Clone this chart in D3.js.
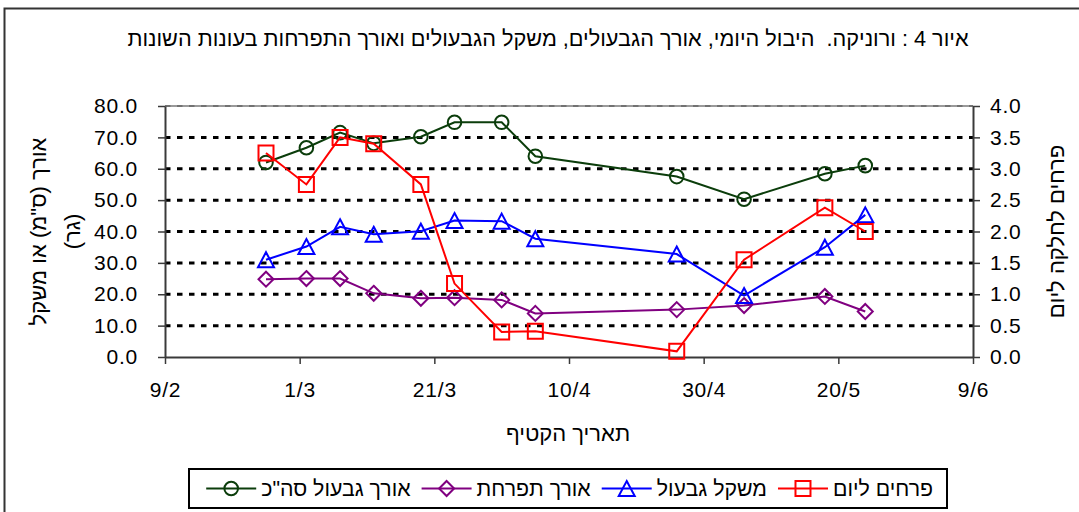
<!DOCTYPE html>
<html>
<head>
<meta charset="utf-8">
<script src="https://cdn.jsdelivr.net/npm/d3@7"></script>
<style>
  body { margin: 0; background: #fff; }
  svg { display: block; font-family: "Liberation Sans", Arial, sans-serif; }
</style>
</head>
<body>
<div id="chart"></div>
<script>
// Harvest dates (day/month) and the four measured series
const YEAR = "2007";
const harvestDates = ["24/2", "2/3", "7/3", "12/3", "19/3", "24/3", "31/3", "5/4", "26/4", "6/5", "18/5", "24/5"];
const stemLength = [62.0, 66.7, 71.5, 68.1, 70.2, 74.8, 74.8, 64.0, 57.5, 50.3, 58.4, 61.0];
const inflLength = [24.8, 25.0, 25.0, 20.3, 18.7, 18.9, 18.2, 13.9, 15.1, 16.4, 19.3, 14.5];
const stemWeight = [31.0, 35.2, 41.5, 39.1, 40.1, 43.5, 43.3, 37.7, 32.8, 19.6, 35.0, 45.3];
const flowersPerDay = [3.25, 2.75, 3.5, 3.4, 2.75, 1.17, 0.40, 0.41, 0.09, 1.55, 2.38, 2.0];

const xTickLabels = ["9/2", "1/3", "21/3", "10/4", "30/4", "20/5", "9/6"];
const leftTicks = [0, 10, 20, 30, 40, 50, 60, 70, 80];
const rightTicks = [0, 0.5, 1, 1.5, 2, 2.5, 3, 3.5, 4];

const seriesNames = ["אורך גבעול סה\"כ", "אורך תפרחת", "משקל גבעול", "פרחים ליום"];

const titleText = "איור 4 : ורוניקה.  היבול היומי, אורך הגבעולים, משקל הגבעולים ואורך התפרחות בעונות השונות";
const xTitle = "תאריך הקטיף";
const yLeftTitle = ["אורך (ס\"מ) או משקל", "(גר)"];
const yRightTitle = "פרחים לחלקה ליום";

const parseDate = d3.timeParse("%d/%m/%Y");
const toDate = (s) => parseDate(`${s}/${YEAR}`);

const width = 1079;
const height = 512;
const plot = { left: 165, right: 973, top: 106, bottom: 357 };
const hebFont = "22px";

const svg = d3
  .select("#chart")
  .append("svg")
  .attr("width", width)
  .attr("height", height);

svg.append("rect").attr("width", width).attr("height", height).attr("fill", "#fff");

// outer chart border (runs off the right and bottom edges)
svg
  .append("rect")
  .attr("x", 4.5)
  .attr("y", 8.5)
  .attr("width", width + 20)
  .attr("height", height + 20)
  .attr("fill", "none")
  .attr("stroke", "#333")
  .attr("stroke-width", 2);

// Scales
const xTicks = xTickLabels.map(toDate);
const x = d3
  .scaleTime()
  .domain([xTicks[0], xTicks[xTicks.length - 1]])
  .range([plot.left, plot.right]);
const yL = d3.scaleLinear().domain([0, 80]).range([plot.bottom, plot.top]);
const yR = d3.scaleLinear().domain([0, 4]).range([plot.bottom, plot.top]);

// Gridlines
svg
  .append("line")
  .attr("x1", plot.left)
  .attr("x2", plot.right)
  .attr("y1", yL(80))
  .attr("y2", yL(80))
  .attr("stroke", "#9a9a9a")
  .attr("stroke-width", 2);

svg
  .append("g")
  .selectAll("line")
  .data(leftTicks.filter((d) => d > 0))
  .join("line")
  .attr("x1", plot.left)
  .attr("x2", plot.right)
  .attr("y1", (d) => yL(d))
  .attr("y2", (d) => yL(d))
  .attr("stroke", (d) => (d === 80 ? "#666" : "#000"))
  .attr("stroke-width", (d) => (d === 80 ? 1.5 : 3))
  .attr("stroke-dasharray", "5.5,6.5");

// Axes
const tickFont = "21px";
const axisColor = "#3a3a3a";

function styleAxis(g) {
  g.select(".domain").attr("stroke", axisColor).attr("stroke-width", 2);
  g.selectAll(".tick line").attr("stroke", axisColor).attr("stroke-width", 1.5);
  g.selectAll(".tick text")
    .attr("fill", "#000")
    .style("font-size", tickFont)
    .style("letter-spacing", "0.8px")
    .style("font-family", '"Liberation Sans", Arial, sans-serif');
}

svg
  .append("g")
  .attr("transform", `translate(0,${plot.bottom})`)
  .call(
    d3
      .axisBottom(x)
      .tickValues(xTicks)
      .tickSize(7)
      .tickSizeOuter(0)
      .tickPadding(18)
      .tickFormat(d3.timeFormat("%-d/%-m"))
  )
  .call(styleAxis);

svg
  .append("g")
  .attr("transform", `translate(${plot.left},0)`)
  .call(
    d3
      .axisLeft(yL)
      .tickValues(leftTicks)
      .tickSize(7)
      .tickSizeOuter(0)
      .tickPadding(20)
      .tickFormat(d3.format(".1f"))
  )
  .call(styleAxis);

svg
  .append("g")
  .attr("transform", `translate(${plot.right},0)`)
  .call(
    d3
      .axisRight(yR)
      .tickValues(rightTicks)
      .tickSize(7)
      .tickSizeOuter(0)
      .tickPadding(10)
      .tickFormat(d3.format(".1f"))
  )
  .call(styleAxis);

// Markers
const markerPaths = {
  circle: "M6.8,0A6.8,6.8,0,1,1,-6.8,0A6.8,6.8,0,1,1,6.8,0Z",
  diamond: "M0,-7.5L7.5,0L0,7.5L-7.5,0Z",
  triangle: "M0,-7.5L8,7.5L-8,7.5Z",
  square: "M-7.5,-7.5H7.5V7.5H-7.5Z",
};

const series = [
  { name: seriesNames[0], values: stemLength, color: "#0b3d0b", marker: "circle", y: yL },
  { name: seriesNames[1], values: inflLength, color: "#800080", marker: "diamond", y: yL },
  { name: seriesNames[2], values: stemWeight, color: "#0000ff", marker: "triangle", y: yL },
  { name: seriesNames[3], values: flowersPerDay, color: "#ff0000", marker: "square", y: yR },
];

series.forEach((s) => {
  const pts = harvestDates.map((d, i) => ({ date: toDate(d), value: s.values[i] }));
  const line = d3
    .line()
    .x((d) => x(d.date))
    .y((d) => s.y(d.value));

  const g = svg.append("g");
  g.append("path")
    .datum(pts)
    .attr("d", line)
    .attr("fill", "none")
    .attr("stroke", s.color)
    .attr("stroke-width", 2);

  g.selectAll("path.marker")
    .data(pts)
    .join("path")
    .attr("class", "marker")
    .attr("d", markerPaths[s.marker])
    .attr("transform", (d) => `translate(${x(d.date)},${s.y(d.value)})`)
    .attr("fill", "none")
    .attr("stroke", s.color)
    .attr("stroke-width", 2);
});

// Title and axis titles
svg
  .append("text")
  .attr("x", 548)
  .attr("y", 46)
  .attr("text-anchor", "middle")
  .attr("direction", "rtl")
  .style("font-size", "21.7px")
  .style("white-space", "pre")
  .text(titleText);

svg
  .append("text")
  .attr("x", 568)
  .attr("y", 441)
  .attr("text-anchor", "middle")
  .attr("direction", "rtl")
  .style("font-size", hebFont)
  .text(xTitle);

const midY = (plot.top + plot.bottom) / 2;
yLeftTitle.forEach((t, i) => {
  svg
    .append("text")
    .attr("transform", `translate(${46 + i * 34},${midY}) rotate(-90)`)
    .attr("text-anchor", "middle")
    .attr("direction", "rtl")
    .style("font-size", hebFont)
    .text(t);
});

svg
  .append("text")
  .attr("transform", `translate(1064,${midY}) rotate(-90)`)
  .attr("text-anchor", "middle")
  .attr("direction", "rtl")
  .style("font-size", hebFont)
  .text(yRightTitle);

// Legend (right-to-left order)
const legendBox = { x: 189, y: 469, w: 758, h: 39 };
const legend = svg.append("g");
legend
  .append("rect")
  .attr("x", legendBox.x)
  .attr("y", legendBox.y)
  .attr("width", legendBox.w)
  .attr("height", legendBox.h)
  .attr("fill", "#fff")
  .attr("stroke", "#000")
  .attr("stroke-width", 2);

const legendY = legendBox.y + legendBox.h / 2;
let cursor = legendBox.x + legendBox.w - 14;
series
  .slice()
  .reverse()
  .forEach((s) => {
    const txt = legend
      .append("text")
      .attr("y", legendY + 7.5)
      .attr("text-anchor", "middle")
      .attr("direction", "rtl")
      .style("font-size", "21.3px")
      .text(s.name);
    const w = txt.node().getComputedTextLength();
    txt.attr("x", cursor - w / 2);
    cursor -= w + 5;
    legend
      .append("line")
      .attr("x1", cursor - 50)
      .attr("x2", cursor)
      .attr("y1", legendY)
      .attr("y2", legendY)
      .attr("stroke", s.color)
      .attr("stroke-width", 2);
    legend
      .append("path")
      .attr("d", markerPaths[s.marker])
      .attr("transform", `translate(${cursor - 25},${legendY})`)
      .attr("fill", "none")
      .attr("stroke", s.color)
      .attr("stroke-width", 2);
    cursor -= 50 + 11;
  });
</script>
</body>
</html>
